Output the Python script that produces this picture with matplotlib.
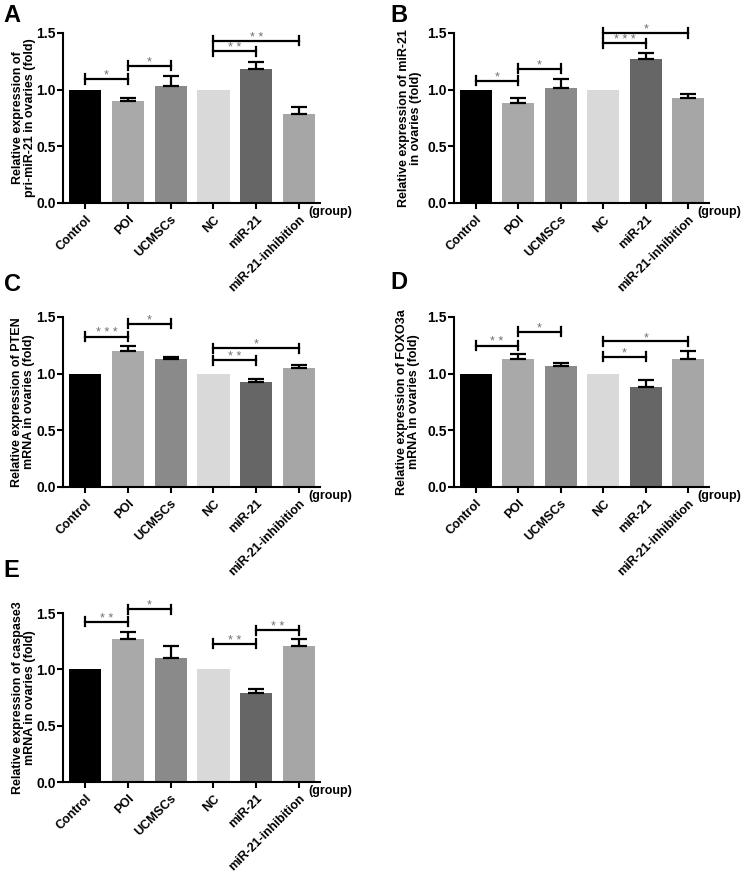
import matplotlib
matplotlib.use('Agg')
import matplotlib.pyplot as plt

plt.rcParams['font.family'] = ['Liberation Sans', 'DejaVu Sans']
plt.rcParams['font.weight'] = 'bold'

groups = ['Control', 'POI', 'UCMSCs', 'NC', 'miR-21', 'miR-21-inhibition']
colors = ['#000000', '#a9a9a9', '#8a8a8a', '#d9d9d9', '#666666', '#a6a6a6']

# panel A: pri-miR-21
a_mean = [1.0, 0.897, 1.035, 1.0, 1.18, 0.785]
a_err = [0, 0.027, 0.089, 0, 0.067, 0.062]
# panel B: miR-21
b_mean = [1.0, 0.886, 1.019, 1.0, 1.273, 0.924]
b_err = [0, 0.038, 0.073, 0, 0.047, 0.036]
# panel C: PTEN
c_mean = [1.0, 1.2, 1.129, 1.0, 0.924, 1.053]
c_err = [0, 0.044, 0.021, 0, 0.032, 0.021]
# panel D: FOXO3a
d_mean = [1.0, 1.126, 1.071, 1.0, 0.882, 1.126]
d_err = [0, 0.05, 0.026, 0, 0.065, 0.074]
# panel E: caspase3
e_mean = [1.0, 1.266, 1.1, 1.0, 0.787, 1.204]
e_err = [0, 0.065, 0.107, 0, 0.041, 0.065]

# brackets: (i, j, height, stars)
a_sig = [(0, 1, 1.094, '*'), (1, 2, 1.21, '*'), (3, 4, 1.338, '**'), (3, 5, 1.43, '**')]
b_sig = [(0, 1, 1.08, '*'), (1, 2, 1.184, '*'), (3, 4, 1.408, '***'), (3, 5, 1.5, '*')]
c_sig = [(0, 1, 1.326, '***'), (1, 2, 1.441, '*'), (3, 4, 1.118, '**'), (3, 5, 1.226, '*')]
d_sig = [(0, 1, 1.247, '**'), (1, 2, 1.368, '*'), (3, 4, 1.15, '*'), (3, 5, 1.285, '*')]
e_sig = [(0, 1, 1.423, '**'), (1, 2, 1.536, '*'), (3, 4, 1.228, '**'), (4, 5, 1.346, '**')]

ylabels = ['Relative expression of\npri-miR-21 in ovaries (fold)',
           'Relative expression of miR-21\nin ovaries (fold)',
           'Relative expression of PTEN\nmRNA in ovaries (fold)',
           'Relative expression of FOXO3a\nmRNA in ovaries (fold)',
           'Relative expression of caspase3\nmRNA in ovaries (fold)']
letters = ['A', 'B', 'C', 'D', 'E']

fig = plt.figure(figsize=(7.44, 8.73), dpi=100)

# left, bottom, width, height (figure fraction)
boxes = [[0.0847, 0.7675, 0.3455, 0.1947],
         [0.610, 0.7675, 0.343, 0.1947],
         [0.0847, 0.4422, 0.3455, 0.1947],
         [0.610, 0.4422, 0.343, 0.1947],
         [0.0847, 0.1042, 0.3455, 0.1935]]
letter_pos = [(0.005, 0.995), (0.525, 0.995), (0.005, 0.687), (0.525, 0.690), (0.005, 0.360)]
label_x = [-0.15, -0.17, -0.155, -0.18, -0.152]

data = [(a_mean, a_err, a_sig), (b_mean, b_err, b_sig), (c_mean, c_err, c_sig),
        (d_mean, d_err, d_sig), (e_mean, e_err, e_sig)]

for k in range(5):
    mean, err, sig = data[k]
    ax = fig.add_axes(boxes[k])
    x = list(range(len(groups)))
    ax.bar(x, mean, width=0.75, color=colors, edgecolor='none', zorder=2)
    ex = [i for i in x if err[i] > 0]
    ax.errorbar(ex, [mean[i] for i in ex], yerr=[[0] * len(ex), [err[i] for i in ex]],
                fmt='none', ecolor='black', elinewidth=1.6, capsize=6, capthick=1.6, zorder=3)
    for i, j, h, s in sig:
        ax.plot([i, j], [h, h], color='black', lw=1.6, zorder=4, clip_on=False)
        for xx in (i, j):
            ax.plot([xx, xx], [h - 0.04, h + 0.04], color='black', lw=1.6, zorder=4, clip_on=False)
        ax.text((i + j) / 2, h + 0.002, ' '.join(s), ha='center', va='baseline',
                fontsize=9, color='#707070', fontweight='normal', clip_on=False)
    ax.set_xlim(-0.515, 5.49)
    ax.set_ylim(0, 1.5)
    ax.set_yticks([0, 0.5, 1.0, 1.5])
    ax.set_yticklabels(['0.0', '0.5', '1.0', '1.5'], fontsize=10, fontweight='bold')
    ax.set_xticks(x)
    ax.set_xticklabels(groups, rotation=45, ha='right', rotation_mode='anchor',
                       fontsize=9, fontweight='bold')
    for sp in ['top', 'right']:
        ax.spines[sp].set_visible(False)
    for sp in ['left', 'bottom']:
        ax.spines[sp].set_linewidth(1.5)
    ax.tick_params(width=1.5, length=4)
    ax.tick_params(axis='y', pad=1)
    ax.set_ylabel(ylabels[k], fontsize=9, fontweight='bold', va='center', linespacing=1.0)
    ax.yaxis.set_label_coords(label_x[k], 0.5)
    ax.text(1.04, -0.055, '(group)', transform=ax.transAxes, ha='center', va='center',
            fontsize=9, fontweight='bold')
    fig.text(letter_pos[k][0], letter_pos[k][1], letters[k], ha='left', va='top',
             fontsize=17, fontweight='bold')

fig.savefig('out.png', dpi=100)
